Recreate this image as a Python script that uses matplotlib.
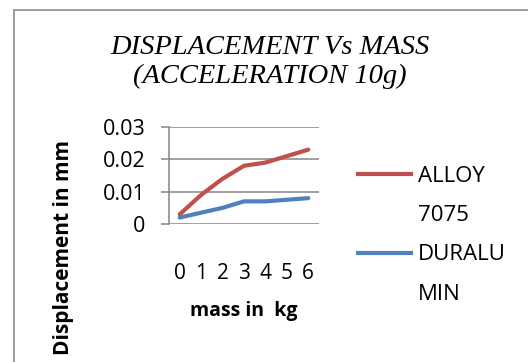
import matplotlib
matplotlib.use("Agg")
import matplotlib.pyplot as plt
from matplotlib.lines import Line2D
from matplotlib.patches import Rectangle

# data
mass_kg = [0, 1, 2, 3, 4, 5, 6]
alloy_7075 = [0.003, 0.009, 0.014, 0.018, 0.019, 0.021, 0.023]
duralumin = [0.002, 0.0035, 0.005, 0.007, 0.007, 0.0075, 0.008]
y_ticks = [0, 0.01, 0.02, 0.03]
y_tick_labels = ["0", "0.01", "0.02", "0.03"]

RED = "#C0504D"
BLUE = "#4F81BD"
GRID = "#868686"
W, H = 528, 362

plt.rcParams["font.family"] = ["Open Sans", "DejaVu Sans"]

fig = plt.figure(figsize=(W / 100, H / 100), dpi=100)

# outer chart border (runs off the right and bottom edge)
fig.add_artist(Rectangle((14 / W, -0.2), 1.5, 1.2 - 10 / H, transform=fig.transFigure,
                         fill=False, edgecolor="#8C8C8C", linewidth=1.2))

ax = fig.add_axes([169 / W, (H - 224) / H, 150 / W, 97 / H])

x = range(len(mass_kg))
ax.plot(x, alloy_7075, color=RED, lw=3, solid_capstyle="round", solid_joinstyle="round")
ax.plot(x, duralumin, color=BLUE, lw=3, solid_capstyle="round", solid_joinstyle="round")

ax.set_xlim(-0.5, len(mass_kg) - 0.5)
ax.set_ylim(0, 0.03)
ax.set_yticks(y_ticks)
ax.set_yticklabels(y_tick_labels)
ax.set_xticks(list(x))
ax.set_xticklabels([str(m) for m in mass_kg])

ax.yaxis.grid(True, color=GRID, lw=1.1)
ax.set_axisbelow(True)
for s in ["top", "right", "bottom"]:
    ax.spines[s].set_visible(False)
ax.spines["left"].set_color(GRID)
ax.spines["left"].set_linewidth(1.1)
ax.tick_params(axis="y", length=6, color=GRID, width=1.1, pad=11, labelsize=15.5)
ax.tick_params(axis="x", length=0, pad=28, labelsize=15)

ax.set_xlabel("mass in  kg", fontsize=14, fontweight="bold", labelpad=12)
fig.text(63 / W, 1 - 140 / H, "Displacement in mm", rotation=90, ha="center",
         va="top", fontsize=15, fontweight="bold")

fig.text(270 / W, 1 - 62 / H, "DISPLACEMENT Vs MASS\n(ACCELERATION 10g)",
         ha="center", va="center", fontsize=20.5, style="italic",
         family="Liberation Serif", linespacing=1.25)

# legend, labels wrap like the original
blank = Line2D([], [], color="none")
handles = [Line2D([], [], color=RED, lw=3), blank,
           Line2D([], [], color=BLUE, lw=3), blank]
labels = ["ALLOY", "7075", "DURALU", "MIN"]
fig.legend(handles, labels, loc="upper left", bbox_to_anchor=(358 / W, 1 - 166 / H),
           frameon=False, fontsize=16, handlelength=2.4, handletextpad=0.3,
           borderpad=0, borderaxespad=0, labelspacing=0.82)

fig.savefig("out.png", dpi=100)
